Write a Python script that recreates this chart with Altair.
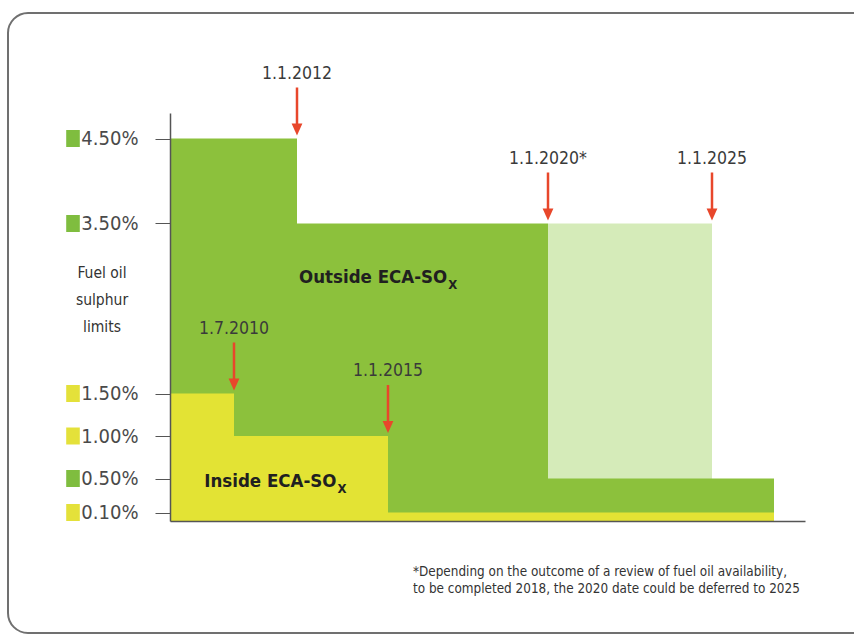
import altair as alt
import pandas as pd

# Sulphur limit steps: each value holds from its year until the next one
outside_years = [2008, 2012, 2020, 2027]
outside_limits = [4.5, 3.5, 0.5, 0.5]
inside_years = [2008, 2010.5, 2015, 2027]
inside_limits = [1.5, 1.0, 0.1, 0.1]

# Possible deferral window of the global 0.50% cap
deferral_start = 2020
deferral_end = 2025
deferral_limit = 3.5

# Dated milestones pointed at by arrows (arrow tip sits on the limit in force)
milestone_labels = ["1.7.2010", "1.1.2012", "1.1.2015", "1.1.2020*", "1.1.2025"]
milestone_years = [2010.5, 2012, 2015, 2020, 2025]
milestone_levels = [1.5, 4.5, 1.0, 3.5, 3.5]

# Y-axis ticks and the zone each limit belongs to
tick_values = [4.5, 3.5, 1.5, 1.0, 0.5, 0.1]
tick_zone = ["outside", "outside", "inside", "inside", "outside", "inside"]

# Region captions
region_labels = ["Outside ECA-SO", "Inside ECA-SO"]
region_years = [2016.85, 2013.3]
region_levels = [2.8, 0.4]

axis_title_lines = ["Fuel oil", "sulphur", "limits"]
footnote_lines = [
    "*Depending on the outcome of a review of fuel oil availability,",
    "to be completed 2018, the 2020 date could be deferred to 2025",
]

FONT = "Liberation Sans Narrow, DejaVu Sans Condensed, Roboto Condensed, Open Sans, sans-serif"
GREEN = "#8cc13c"
LIGHT_GREEN = "#d5ebb9"
YELLOW = "#e3e334"
RED = "#e8472b"
TEXT = "#3a3a3a"

outside = pd.DataFrame({"year": outside_years, "limit": outside_limits})
inside = pd.DataFrame({"year": inside_years, "limit": inside_limits})
deferral = pd.DataFrame({"start": [deferral_start], "end": [deferral_end],
                         "limit": [deferral_limit], "base": [0.0]})
milestones = pd.DataFrame({"label": milestone_labels, "year": milestone_years,
                           "level": milestone_levels})
ticks = pd.DataFrame({"value": tick_values, "zone": tick_zone})
regions = pd.DataFrame({"label": region_labels, "year": region_years,
                        "level": region_levels, "sub": ["X", "X"]})
one = pd.DataFrame({"k": [0]})

# Schematic time axis: piecewise-linear between the milestone dates
xs = alt.Scale(domain=[2008, 2010.5, 2012, 2015, 2020, 2025, 2028],
               range=[0, 64, 127, 218, 378, 542, 635], nice=False, zero=False)
ys = alt.Scale(domain=[0, 4.8], nice=False, zero=True)

x_axis = alt.Axis(title=None, labels=False, ticks=False, grid=False,
                  domainColor="#555555", domainWidth=1.5, zindex=1)
y_axis = alt.Axis(title=None, values=tick_values, grid=False,
                  labelExpr="format(datum.value, '.2f') + '%'",
                  labelFont=FONT, labelFontSize=20, labelColor="#4a4a4a",
                  labelPadding=17, tickSize=15, tickColor="#555555",
                  domainColor="#555555", domainWidth=1.5, zindex=1)

frame = alt.Chart(one).mark_rect(
    fill="white", fillOpacity=0, stroke="#707070", strokeWidth=2, cornerRadius=20
).encode(x=alt.value(-162), x2=alt.value(720), y=alt.value(-100), y2=alt.value(520))

deferral_rect = alt.Chart(deferral).mark_rect(color=LIGHT_GREEN).encode(
    x=alt.X("start:Q", scale=xs, axis=x_axis),
    x2="end:Q",
    y=alt.Y("limit:Q", scale=ys, axis=y_axis),
    y2="base:Q",
)

outside_area = alt.Chart(outside).mark_area(
    interpolate="step-after", color=GREEN
).encode(
    x=alt.X("year:Q", scale=xs, axis=x_axis),
    y=alt.Y("limit:Q", scale=ys, axis=y_axis),
)

inside_area = alt.Chart(inside).mark_area(
    interpolate="step-after", color=YELLOW
).encode(
    x=alt.X("year:Q", scale=xs),
    y=alt.Y("limit:Q", scale=ys),
)

arrow_shaft = alt.Chart(milestones).mark_rule(
    color=RED, strokeWidth=2.5, yOffset=-12, y2Offset=-51
).encode(
    x=alt.X("year:Q", scale=xs),
    y=alt.Y("level:Q", scale=ys),
    y2="level:Q",
)

arrow_head = alt.Chart(milestones).mark_point(
    shape="M-0.9,-1L0.9,-1L0,1Z", filled=True, opacity=1, color=RED,
    size=144, yOffset=-9
).encode(
    x=alt.X("year:Q", scale=xs),
    y=alt.Y("level:Q", scale=ys),
)

arrow_text = alt.Chart(milestones).mark_text(
    font=FONT, fontSize=17.5, color=TEXT, baseline="alphabetic", yOffset=-60
).encode(
    x=alt.X("year:Q", scale=xs),
    y=alt.Y("level:Q", scale=ys),
    text="label:N",
)

region_main = alt.Chart(regions).mark_text(
    font=FONT, fontSize=18.5, fontWeight="bold", color="#202020",
    align="right", baseline="alphabetic"
).encode(
    x=alt.X("year:Q", scale=xs),
    y=alt.Y("level:Q", scale=ys),
    text="label:N",
)

region_sub = alt.Chart(regions).mark_text(
    font=FONT, fontSize=13, fontWeight="bold", color="#202020",
    align="left", baseline="alphabetic", dx=1, dy=6
).encode(
    x=alt.X("year:Q", scale=xs),
    y=alt.Y("level:Q", scale=ys),
    text="sub:N",
)

markers = alt.Chart(ticks).mark_point(
    shape="M-0.8,-1H0.8V1H-0.8Z", filled=True, opacity=1, size=289
).encode(
    x=alt.value(-97),
    y=alt.Y("value:Q", scale=ys),
    color=alt.Color("zone:N", legend=None,
                    scale=alt.Scale(domain=["outside", "inside"],
                                    range=["#7fbd3f", "#e4e13a"])),
)

axis_title = alt.Chart(one).mark_text(
    font=FONT, fontSize=15.5, color="#333333", align="center",
    baseline="alphabetic", lineHeight=27
).encode(x=alt.value(-68), y=alt.value(165), text=alt.value(axis_title_lines))

footnote = alt.Chart(one).mark_text(
    font=FONT, fontSize=13.4, color="#333333", align="left",
    baseline="alphabetic", lineHeight=17
).encode(x=alt.value(243), y=alt.value(463), text=alt.value(footnote_lines))

chart = alt.layer(
    frame, deferral_rect, outside_area, inside_area,
    arrow_shaft, arrow_head, arrow_text,
    region_main, region_sub, markers, axis_title, footnote,
).properties(
    width=635, height=408,
    autosize="none",
    padding={"left": 170, "top": 113, "right": 49, "bottom": 115},
    background="white",
).configure_view(stroke=None)

chart.save("out.html", embed_options={"renderer": "svg", "actions": False})
